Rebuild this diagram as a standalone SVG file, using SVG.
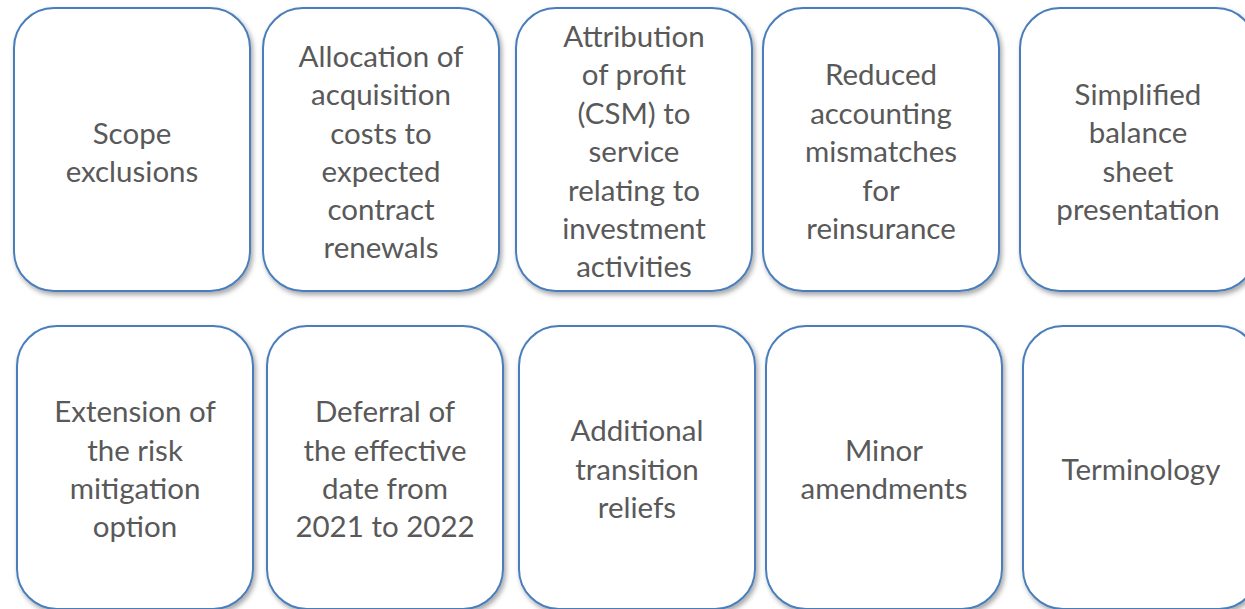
<svg xmlns="http://www.w3.org/2000/svg" width="1245" height="609" viewBox="0 0 1245 609">
<style>
.box{fill:#ffffff;stroke:#4a7ebb;stroke-width:2;filter:url(#sh)}
.t{font-family:Lato,"Open Sans",sans-serif;font-size:29.5px;fill:#595959;text-anchor:middle;dominant-baseline:central}
</style>
<defs>
<filter id="sh" x="-10%" y="-10%" width="130%" height="130%">
<feDropShadow dx="2" dy="3" stdDeviation="2.5" flood-color="#000" flood-opacity="0.35"/>
</filter>
</defs>
<rect width="1245" height="609" fill="#ffffff"/>
<g id="n1"><rect class="box" x="14" y="8" width="236" height="283" rx="40"/>
<text class="t" transform="translate(0,-1.5)"><tspan x="132" y="133">Scope</tspan><tspan x="132" y="171">exclusions</tspan></text></g>
<g id="n2"><rect class="box" x="263" y="8" width="236" height="283" rx="40"/>
<text class="t" transform="translate(0,-1.5)"><tspan x="381" y="56">Allocation of</tspan><tspan x="381" y="94">acquisition</tspan><tspan x="381" y="133">costs to</tspan><tspan x="381" y="171">expected</tspan><tspan x="381" y="209">contract</tspan><tspan x="381" y="247">renewals</tspan></text></g>
<g id="n3"><rect class="box" x="516" y="8" width="236" height="283" rx="40"/>
<text class="t" transform="translate(0,-1.5)"><tspan x="634" y="36">Attribution</tspan><tspan x="634" y="74">of profit</tspan><tspan x="634" y="113">(CSM) to</tspan><tspan x="634" y="151">service</tspan><tspan x="634" y="190">relating to</tspan><tspan x="634" y="228">investment</tspan><tspan x="634" y="266">activities</tspan></text></g>
<g id="n4"><rect class="box" x="763" y="8" width="236" height="283" rx="40"/>
<text class="t" transform="translate(0,-1.5)"><tspan x="881" y="74">Reduced</tspan><tspan x="881" y="113">accounting</tspan><tspan x="881" y="151">mismatches</tspan><tspan x="881" y="190">for</tspan><tspan x="881" y="228">reinsurance</tspan></text></g>
<g id="n5"><rect class="box" x="1020" y="8" width="236" height="283" rx="40"/>
<text class="t" transform="translate(0,-1.5)"><tspan x="1138" y="94">Simplified</tspan><tspan x="1138" y="132">balance</tspan><tspan x="1138" y="171">sheet</tspan><tspan x="1138" y="209">presentation</tspan></text></g>
<g id="n6"><rect class="box" x="17" y="326" width="236" height="283" rx="40"/>
<text class="t" transform="translate(0,-1.5)"><tspan x="135" y="411">Extension of</tspan><tspan x="135" y="450">the risk</tspan><tspan x="135" y="488">mitigation</tspan><tspan x="135" y="526">option</tspan></text></g>
<g id="n7"><rect class="box" x="267" y="326" width="236" height="283" rx="40"/>
<text class="t" transform="translate(0,-1.5)"><tspan x="385" y="411">Deferral of</tspan><tspan x="385" y="450">the effective</tspan><tspan x="385" y="488">date from</tspan><tspan x="385" y="526">2021 to 2022</tspan></text></g>
<g id="n8"><rect class="box" x="519" y="326" width="236" height="283" rx="40"/>
<text class="t" transform="translate(0,-1.5)"><tspan x="637" y="430">Additional</tspan><tspan x="637" y="469">transition</tspan><tspan x="637" y="507">reliefs</tspan></text></g>
<g id="n9"><rect class="box" x="766" y="326" width="236" height="283" rx="40"/>
<text class="t" transform="translate(0,-1.5)"><tspan x="884" y="450">Minor</tspan><tspan x="884" y="488">amendments</tspan></text></g>
<g id="n10"><rect class="box" x="1023" y="326" width="236" height="283" rx="40"/>
<text class="t" transform="translate(0,-1.5)"><tspan x="1141" y="469">Terminology</tspan></text></g>
<g id="connectors"></g>
</svg>
